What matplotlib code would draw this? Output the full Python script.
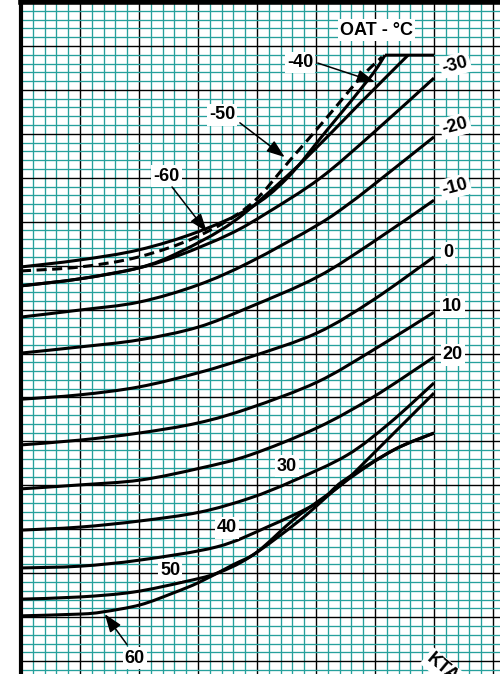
import matplotlib
matplotlib.use('Agg')
import matplotlib.pyplot as plt
from matplotlib.path import Path
from matplotlib.patches import PathPatch
import numpy as np

# grid units: x = major divisions right of the left border,
# y = major divisions down from the top border
m60_x = [0, 1.0, 2.0, 3.0, 3.88, 4.51, 5.19, 5.92, 6.17]
m60_y = [6.03, 5.87, 5.64, 5.23, 4.69, 4.01, 2.91, 1.71, 1.21]
m50_x = [0, 1.0, 2.0, 3.0, 3.88, 4.56, 5.19, 5.75, 6.12]
m50_y = [6.12, 6.03, 5.80, 5.33, 4.62, 3.60, 2.62, 1.73, 1.25]
m40_x = [0, 1.0, 2.0, 2.69, 3.59, 4.51, 5.19, 5.75, 6.56]
m40_y = [6.46, 6.30, 6.05, 5.69, 5.01, 3.96, 3.07, 2.30, 1.21]
cap_x = [6.17, 7.0]
cap_y = [1.21, 1.21]
m30_x = [0, 1.0, 2.0, 2.69, 3.54, 4.17, 5.07, 5.97, 7.0]
m30_y = [6.46, 6.30, 6.05, 5.76, 5.28, 4.80, 4.01, 2.98, 1.73]
m20_x = [0, 1.0, 2.0, 3.0, 3.88, 5.02, 5.58, 6.08, 7.0]
m20_y = [7.17, 7.01, 6.83, 6.44, 5.92, 5.08, 4.57, 4.05, 3.07]
mid_x = [0, 1.0, 2.0, 3.0, 3.88, 5.02, 5.97, 7.0]
m10_y = [7.99, 7.85, 7.69, 7.40, 6.94, 6.26, 5.46, 4.51]
p0_y = [9.04, 8.94, 8.76, 8.44, 8.08, 7.53, 6.78, 5.80]
p10_y = [10.08, 9.97, 9.81, 9.58, 9.24, 8.65, 7.92, 7.06]
p20_x = [0, 1.0, 2.02, 3.03, 3.88, 5.02, 5.97, 7.0]
p20_y = [11.08, 10.99, 10.88, 10.61, 10.31, 9.69, 8.99, 8.08]
p30_x = [0, 1.0, 2.02, 3.03, 3.88, 4.61, 5.53, 6.25, 7.0]
p30_y = [12.02, 11.95, 11.81, 11.61, 11.29, 10.90, 10.31, 9.58, 8.67]
p40_x = [0, 1.0, 2.02, 3.32, 4.17, 5.02, 5.46, 6.31, 7.0]
p40_y = [12.88, 12.84, 12.70, 12.40, 11.95, 11.40, 10.90, 10.20, 9.81]
p50_x = [0, 1.0, 1.9, 2.75, 3.32, 3.88, 4.73, 5.46, 6.31, 7.0]
p50_y = [13.59, 13.54, 13.43, 13.20, 13.0, 12.63, 11.79, 10.95, 10.20, 9.81]
p60_x = [0, 1.0, 1.39, 2.02, 2.58, 3.03, 3.59, 4.0, 4.61, 5.07, 5.46, 6.03, 7.0]
p60_y = [13.97, 13.93, 13.88, 13.72, 13.45, 13.20, 12.81, 12.52, 11.79, 11.33,
         10.95, 10.20, 8.90]

# right-hand OAT labels
right_labels = ['-30', '-20', '-10', '0', '10', '20']
right_lab_x = [7.36, 7.36, 7.36, 7.24, 7.31, 7.32]
right_lab_y = [1.43, 2.82, 4.21, 5.71, 6.94, 8.03]
right_lab_rot = [15, 15, 15, 0, 0, 0]

# in-chart labels
inner_labels = ['30', '40', '50']
inner_lab_x = [4.51, 3.49, 2.53]
inner_lab_y = [10.56, 11.97, 12.93]

# arrow labels: text, text pos, tail, tip
arrow_labels = ['-40', '-50', '-60', '60']
arrow_text_xy = [(4.73, 1.37), (3.41, 2.57), (2.47, 3.96), (1.93, 14.93)]
arrow_tail_xy = [(5.03, 1.39), (3.71, 2.75), (2.56, 4.21), (1.80, 14.63)]
arrow_tip_xy = [(6.0, 1.82), (4.47, 3.53), (3.15, 5.23), (1.42, 13.93)]

TEAL = '#26a09c'
FONT = 'Liberation Sans'


def smooth_path(x, y):
    # catmull-rom through the read points, drawn as bezier segments
    pts = np.column_stack([x, y])
    n = len(pts)
    verts = [pts[0]]
    codes = [Path.MOVETO]
    for i in range(n - 1):
        p0 = pts[max(i - 1, 0)]
        p1 = pts[i]
        p2 = pts[i + 1]
        p3 = pts[min(i + 2, n - 1)]
        verts += [p1 + (p2 - p0) / 6, p2 - (p3 - p1) / 6, p2]
        codes += [Path.CURVE4] * 3
    return Path(verts, codes)


def draw_curve(ax, x, y, ls='-'):
    patch = PathPatch(smooth_path(x, y), facecolor='none', edgecolor='black',
                      lw=2.2, ls=ls, capstyle='butt', joinstyle='round', zorder=3)
    ax.add_patch(patch)


def main():
    fig = plt.figure(figsize=(5, 6.74), dpi=100)
    ax = fig.add_axes([21 / 500, 0, 479 / 500, 672 / 674])
    ax.set_xlim(0, 479 / 59)
    ax.set_ylim(672 / 43.94, 0)

    ax.set_xticks(np.arange(0, 9, 1))
    ax.set_xticks(np.arange(0, 8.2, 0.2), minor=True)
    ax.set_yticks(np.arange(0, 16, 1))
    ax.set_yticks(np.arange(0, 15.4, 0.2), minor=True)
    ax.grid(which='minor', color=TEAL, lw=0.95)
    ax.grid(which='major', color='black', lw=1.0)
    ax.set_axisbelow(True)
    ax.tick_params(which='both', length=0, labelbottom=False, labelleft=False)
    for s in ['right', 'bottom']:
        ax.spines[s].set_visible(False)
    ax.spines['left'].set_linewidth(3)
    ax.spines['top'].set_linewidth(4)

    draw_curve(ax, m60_x, m60_y)
    draw_curve(ax, m50_x, m50_y, ls=(0, (3.3, 1.8)))
    draw_curve(ax, m40_x, m40_y)
    draw_curve(ax, cap_x, cap_y)
    draw_curve(ax, m30_x, m30_y)
    draw_curve(ax, m20_x, m20_y)
    draw_curve(ax, mid_x, m10_y)
    draw_curve(ax, mid_x, p0_y)
    draw_curve(ax, mid_x, p10_y)
    draw_curve(ax, p20_x, p20_y)
    draw_curve(ax, p30_x, p30_y)
    draw_curve(ax, p40_x, p40_y)
    draw_curve(ax, p50_x, p50_y)
    draw_curve(ax, p60_x, p60_y)

    box = dict(facecolor='white', edgecolor='none', pad=1.5)
    tkw = dict(fontsize=13, fontweight='bold', family=FONT, ha='center',
               va='center', bbox=box, zorder=5)

    for t, x, y, r in zip(right_labels, right_lab_x, right_lab_y, right_lab_rot):
        ax.text(x, y, t, rotation=r, clip_on=False, **tkw)
    for t, x, y in zip(inner_labels, inner_lab_x, inner_lab_y):
        ax.text(x, y, t, **tkw)
    for t, txy, tail, tip in zip(arrow_labels, arrow_text_xy, arrow_tail_xy, arrow_tip_xy):
        ax.text(txy[0], txy[1], t, **tkw)
        ax.annotate('', xy=tip, xytext=tail, zorder=6,
                    arrowprops=dict(arrowstyle='-|>,head_length=0.55,head_width=0.2',
                                    color='black', lw=1.1, mutation_scale=20,
                                    shrinkA=0, shrinkB=0))

    ax.text(6.03, 0.64, 'OAT - °C', **tkw)
    # axis title runs off the bottom edge, as in the source crop
    ax.text(6.81, 15.25, 'KTAS', rotation=-40, fontsize=13, fontweight='bold',
            family=FONT, ha='left', va='center', bbox=box, zorder=5, clip_on=False)

    fig.savefig('out.png', dpi=100)


if __name__ == '__main__':
    main()
